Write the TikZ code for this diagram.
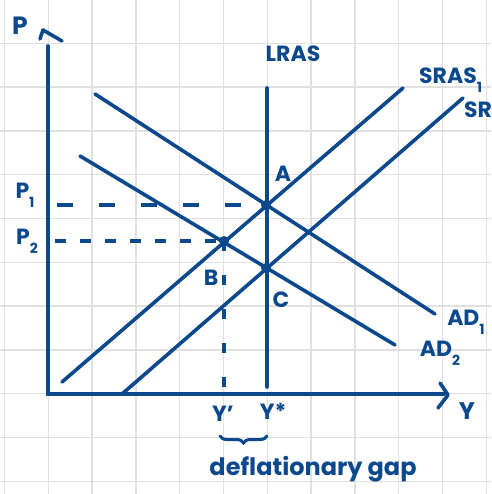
\documentclass[tikz,border=0pt]{standalone}
\usepackage{fontspec}
\setmainfont{Poppins}
\usetikzlibrary{positioning, decorations.pathreplacing}
\definecolor{inkblue}{RGB}{12,72,140}
\definecolor{gridgray}{RGB}{224,224,224}
\newcommand{\lowsub}[1]{\raisebox{-0.4em}{\fontsize{14}{15}\selectfont #1}}

\begin{document}
\begin{tikzpicture}[x=1pt, y=-1pt,
    curve/.style={draw=inkblue, line width=3.6pt, line cap=round},
    guide/.style={draw=inkblue, line width=3.2pt},
    lbl/.style={text=inkblue, inner sep=0pt,
                font=\bfseries\fontsize{22}{24}\selectfont},
    dot/.style={circle, fill=inkblue, minimum size=10pt, inner sep=0pt}]
  \clip (0,0) rectangle (491,494);
  % grid paper
  \foreach \k in {0,...,11} {
    \draw[gridgray, line width=1.3pt] (4.5+43.8*\k, 0) -- (4.5+43.8*\k, 494);
    \draw[gridgray, line width=1.3pt] (0, -0.5+43.8*\k) -- (491, -0.5+43.8*\k);
  }

  % axes
  \coordinate (orig) at (48,394);
  \coordinate (ptop) at (48,46);
  \coordinate (yend) at (444,394);
  \draw[curve] (ptop) -- (orig) -- (yend);
  \draw[curve, line join=round] (40,39) -- (43,30) -- (62,41);
  \draw[curve, line join=round] (440,383) -- (448,395) -- (438,408);

  % equilibria
  \node[dot] (A) at (266,205) {};
  \node[dot] (B) at (224,241) {};
  \node[dot] (C) at (266,268) {};

  % curves
  \coordinate (lras-top) at (267,88);
  \coordinate (lras-bot) at (267,387);
  \coordinate (sras1-lo) at (62,382);
  \coordinate (sras1-hi) at (403,88);
  \coordinate (sras2-lo) at (122,394);
  \coordinate (sras2-hi) at (463,98);
  \coordinate (ad1-hi) at (95,94);
  \coordinate (ad1-lo) at (435,314);
  \coordinate (ad2-hi) at (80,156);
  \coordinate (ad2-lo) at (395,345);
  \draw[curve] (lras-top) -- (lras-bot);
  \draw[curve] (sras1-lo) -- (sras1-hi);
  \draw[curve] (sras2-lo) -- (sras2-hi);
  \draw[curve] (ad1-hi) -- (ad1-lo);
  \draw[curve] (ad2-hi) -- (ad2-lo);

  % guide lines
  \coordinate (p1) at (57,205);
  \coordinate (p2) at (55,241);
  \coordinate (yprime) at (224,396);
  \draw[guide, dash pattern=on 16pt off 26pt] (p1) -- (A.center);
  \draw[guide, dash pattern=on 11pt off 14pt] (p2) -- (B.center);
  \draw[guide, dash pattern=on 10pt off 24pt] (B.center) -- (yprime);
  \draw[curve, line width=3pt, decorate,
        decoration={brace, mirror, amplitude=7pt}] (220,436) -- (267,436);

  % labels
  \node[lbl, font=\bfseries\fontsize{25}{26}\selectfont] (lblP) at (20,26) {P};
  \node[lbl] (lblP1) at (25,195) {P\lowsub{1}};
  \node[lbl] (lblP2) at (27,241) {P\lowsub{2}};
  \node[lbl] (lblLRAS) at (293,54) {LRAS};
  \node[lbl, anchor=west] (lblSRAS1) at (419,80) {SRAS\lowsub{1}};
  \node[lbl, anchor=west] (lblSRAS2) at (464,114) {SRAS\lowsub{2}};
  \node[lbl] (lblAD1) at (466,322) {AD\lowsub{1}};
  \node[lbl] (lblAD2) at (440,353) {AD\lowsub{2}};
  \node[lbl] (lblA) at (283,174) {A};
  \node[lbl] (lblB) at (211,278) {B};
  \node[lbl] (lblC) at (281,300) {C};
  \node[lbl] (lblY1) at (223,414) {Y'};
  \node[lbl] (lblYs) at (273,411) {Y*};
  \node[lbl, font=\bfseries\fontsize{24}{26}\selectfont] (lblY) at (467,411) {Y};
  \node[lbl, font=\bfseries\fontsize{24}{26}\selectfont] (lblgap) at (313,469) {deflationary gap};
\end{tikzpicture}
\end{document}
